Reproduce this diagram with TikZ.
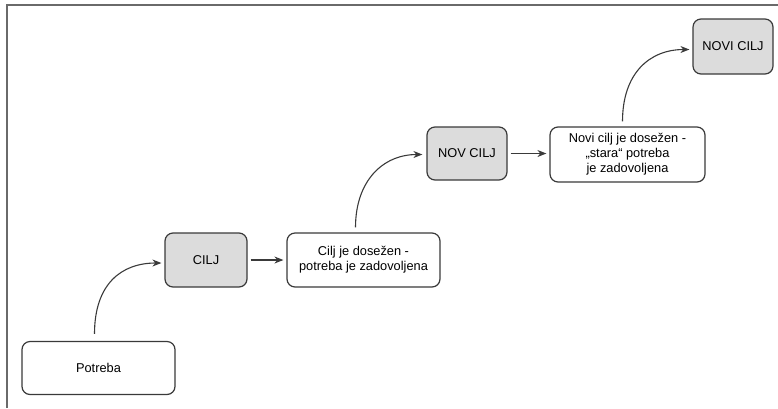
\documentclass[tikz,border=0pt]{standalone}
\usepackage{fontspec}
\setmainfont{Liberation Sans}
\usetikzlibrary{arrows.meta}
\definecolor{linegray}{HTML}{3A3A3A}
\definecolor{boxgray}{HTML}{DCDCDC}
\definecolor{framegray}{HTML}{6A6A6A}
\tikzset{
  stagebox/.style={draw=linegray, line width=1.2pt, rounded corners=8pt,
    fill=white, align=center, inner sep=0pt,
    font=\fontsize{12.8}{15}\selectfont},
  goalbox/.style={stagebox, fill=boxgray},
  arr/.style={draw=linegray, line width=1.1pt,
    -{Stealth[length=9pt,width=7pt]}},
}
\begin{document}
\begin{tikzpicture}[x=1pt,y=-1pt]
  \useasboundingbox (0,0) rectangle (778,408);
  % frame
  \draw[framegray, line width=1.6pt] (7,408) -- (7,5) -- (778,5);

  % nodes
  \node[stagebox, minimum width=153pt, minimum height=53pt] (pot) at (98.5,368) {Potreba};
  \node[goalbox, minimum width=82pt, minimum height=54pt] (cilj) at (206,260) {CILJ};
  \node[stagebox, minimum width=153pt, minimum height=54pt] (dos) at (363.5,260)
    {Cilj je dosežen -\\potreba je zadovoljena};
  \node[goalbox, minimum width=80pt, minimum height=53pt] (nov) at (467,153.5) {NOV CILJ};
  \node[stagebox, minimum width=155pt, minimum height=55pt] (staro) at (627.5,154.5)
    {Novi cilj je dosežen -\\„stara“ potreba\\je zadovoljena};
  \node[goalbox, minimum width=80pt, minimum height=55pt] (novi) at (733,46.5) {NOVI CILJ};

  % connectors
  \coordinate (c1) at ([xshift=-4pt,yshift=7pt]pot.north);
  \draw[arr] (c1) .. controls +(0,-50) and +(-40,0) .. ([xshift=-3pt,yshift=-3pt]cilj.west);
  \draw[arr, shorten <=3pt, shorten >=3pt] (cilj) -- (dos);
  \coordinate (c2) at ([xshift=-8pt,yshift=5pt]dos.north);
  \draw[arr] (c2) .. controls +(0,-46) and +(-40,0) .. ([xshift=-4pt,yshift=-1pt]nov.west);
  \draw[arr, shorten <=3pt, shorten >=3pt] (nov) -- (staro.west |- nov);
  \coordinate (c3) at ([xshift=-5pt,yshift=5pt]staro.north);
  \draw[arr] (c3) .. controls +(0,-48) and +(-40,0) .. ([xshift=-3pt,yshift=-3pt]novi.west);
\end{tikzpicture}
\end{document}
